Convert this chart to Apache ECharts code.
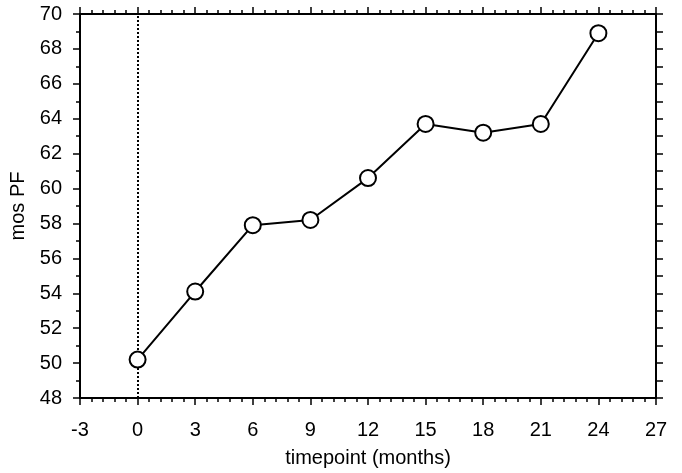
<!DOCTYPE html>
<html>
<head>
<meta charset="utf-8">
<script src="https://cdn.jsdelivr.net/npm/echarts@6/dist/echarts.min.js"></script>
<style>
html, body { margin: 0; padding: 0; background: #fff; }
#chart { width: 682px; height: 473px; }
</style>
</head>
<body>
<div id="chart"></div>
<script>
// Time points (months) and mean PF score at each visit
const months = [0, 3, 6, 9, 12, 15, 18, 21, 24];
const mosPF = [50.2, 54.1, 57.9, 58.2, 60.6, 63.7, 63.2, 63.7, 68.9];
const xRange = [-3, 27];
const yRange = [48, 70];
const baselineMonth = 0;

const FONT = 'Liberation Sans, Arial, sans-serif';
const black = '#000';

const points = months.map((m, i) => [m, mosPF[i]]);

const axisLineStyle = { show: true, onZero: false, lineStyle: { color: black, width: 2 } };
const majorTick = { show: true, inside: false, length: 7, lineStyle: { color: black, width: 1.5 } };

const chart = echarts.init(document.getElementById('chart'), null, { renderer: 'canvas' });
chart.setOption({
  animation: false,
  backgroundColor: '#fff',
  grid: { left: 80, right: 26, top: 14, bottom: 75, containLabel: false },
  xAxis: [
    {
      type: 'value', position: 'bottom',
      min: xRange[0], max: xRange[1], interval: 3,
      name: 'timepoint (months)', nameLocation: 'middle', nameGap: 50,
      nameTextStyle: { fontFamily: FONT, fontSize: 20, color: black },
      axisLine: axisLineStyle,
      axisTick: majorTick,
      minorTick: { show: true, splitNumber: 5, length: 4, lineStyle: { color: black, width: 1.5 } },
      axisLabel: { fontFamily: FONT, fontSize: 20, color: black, margin: 22 },
      splitLine: { show: false }
    },
    {
      type: 'value', position: 'top',
      min: xRange[0], max: xRange[1], interval: 3,
      axisLine: axisLineStyle,
      axisTick: majorTick,
      minorTick: { show: true, splitNumber: 5, length: 4, lineStyle: { color: black, width: 1.5 } },
      axisLabel: { show: false },
      splitLine: { show: false }
    }
  ],
  yAxis: [
    {
      type: 'value', position: 'left',
      min: yRange[0], max: yRange[1], interval: 2,
      name: 'mos PF', nameLocation: 'middle', nameGap: 51,
      nameTextStyle: { fontFamily: FONT, fontSize: 20, color: black },
      axisLine: axisLineStyle,
      axisTick: majorTick,
      minorTick: { show: true, splitNumber: 2, length: 4, lineStyle: { color: black, width: 1.5 } },
      axisLabel: { fontFamily: FONT, fontSize: 20, color: black, margin: 18 },
      splitLine: { show: false }
    },
    {
      type: 'value', position: 'right',
      min: yRange[0], max: yRange[1], interval: 1,
      axisLine: axisLineStyle,
      axisTick: majorTick,
      axisLabel: { show: false },
      splitLine: { show: false }
    }
  ],
  series: [
    {
      type: 'line',
      xAxisIndex: 0, yAxisIndex: 0,
      data: points,
      symbol: 'circle', symbolSize: 16,
      itemStyle: { color: '#fff', borderColor: black, borderWidth: 2 },
      lineStyle: { color: black, width: 2 },
      z: 3,
      markLine: {
        silent: true, symbol: 'none', label: { show: false },
        lineStyle: { color: black, width: 2, type: [2, 2] },
        data: [{ xAxis: baselineMonth }],
        z: 1
      }
    }
  ]
});
</script>
</body>
</html>
